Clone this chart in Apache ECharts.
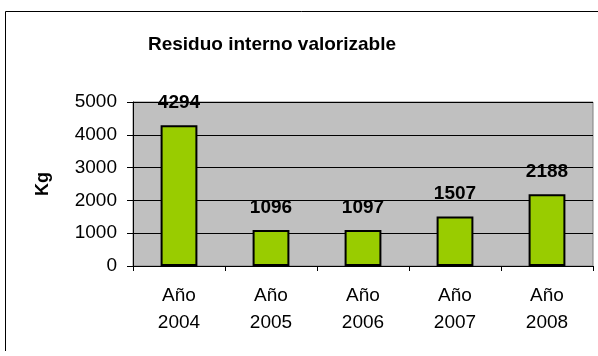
<!DOCTYPE html>
<html>
<head>
<meta charset="utf-8">
<script src="https://cdn.jsdelivr.net/npm/echarts@6/dist/echarts.min.js"></script>
<style>
  html, body { margin: 0; padding: 0; background: #ffffff; }
  #chart { width: 598px; height: 356px; }
</style>
</head>
<body>
<div id="chart"></div>
<script>
// Residuo interno valorizable por año (kg)
const categories = ['Año\n2004', 'Año\n2005', 'Año\n2006', 'Año\n2007', 'Año\n2008'];
const valores = [4294, 1096, 1097, 1507, 2188];
const yTicks = { min: 0, max: 5000, interval: 1000 };

const FONT = 'Liberation Sans, Arial, sans-serif';

const chart = echarts.init(document.getElementById('chart'), null, { renderer: 'canvas' });
chart.setOption({
  animation: false,
  backgroundColor: '#ffffff',
  textStyle: { fontFamily: FONT },
  title: {
    text: 'Residuo interno valorizable',
    left: 267,
    top: 30,
    textAlign: 'center',
    textStyle: { fontFamily: FONT, fontSize: 19, fontWeight: 'bold', color: '#000' }
  },
  graphic: [{
    // chart frame: left and top edges
    type: 'polyline',
    shape: { points: [[5.5, 351], [5.5, 11.5], [598, 11.5]] },
    style: { fill: 'none', stroke: '#000', lineWidth: 1 },
    silent: true
  }],
  grid: {
    left: 133, right: 5, top: 102, bottom: 90,
    show: true,
    backgroundColor: '#C0C0C0',
    borderColor: '#808080',
    borderWidth: 1
  },
  xAxis: {
    type: 'category',
    data: categories,
    axisLine: { show: true, lineStyle: { color: '#000', width: 1 } },
    axisTick: { show: true, alignWithLabel: false, length: 5, lineStyle: { color: '#000' } },
    axisLabel: { margin: 16, fontSize: 19, lineHeight: 27, color: '#000', fontFamily: FONT }
  },
  yAxis: {
    type: 'value',
    min: yTicks.min,
    max: yTicks.max,
    interval: yTicks.interval,
    name: 'Kg',
    nameLocation: 'middle',
    nameGap: 81,
    nameRotate: 90,
    nameTextStyle: { fontSize: 18, fontWeight: 'bold', color: '#000', fontFamily: FONT },
    axisLine: { show: true, lineStyle: { color: '#000', width: 1 } },
    axisTick: { show: true, length: 6, lineStyle: { color: '#000' } },
    axisLabel: {
      margin: 16, fontSize: 19, color: '#000', fontFamily: FONT,
      formatter: v => String(v)
    },
    splitLine: { show: true, lineStyle: { color: '#000', width: 1 } }
  },
  series: [{
    type: 'bar',
    data: valores,
    barWidth: '40%',
    itemStyle: { color: '#99CC00', borderColor: '#000', borderWidth: 2 },
    label: {
      show: true,
      position: 'top',
      distance: 13,
      fontSize: 19,
      fontWeight: 'bold',
      color: '#000',
      fontFamily: FONT
    }
  }]
});
</script>
</body>
</html>
